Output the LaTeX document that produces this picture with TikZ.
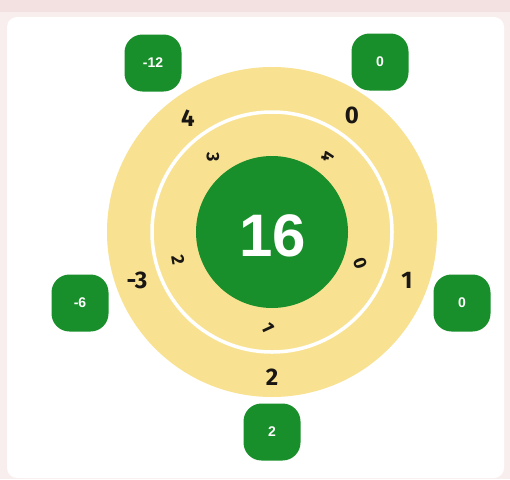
\documentclass[tikz,border=0pt]{standalone}
\usepackage{fontspec}
\setmainfont{Liberation Sans}
\newfontfamily\ringfont{Fira Sans}
\definecolor{pinkbg}{RGB}{249,238,238}
\definecolor{pinktop}{RGB}{243,224,224}
\definecolor{ringyellow}{RGB}{248,226,146}
\definecolor{wheelgreen}{RGB}{24,143,42}
\definecolor{digit}{RGB}{25,22,20}
\tikzset{
  box/.style={fill=wheelgreen, rounded corners=18pt, minimum width=57pt, minimum height=57pt,
    inner sep=0pt, text=white, font=\bfseries\fontsize{14}{14}\selectfont},
  outerlabel/.style={text=digit, inner sep=0pt, font=\ringfont\bfseries\fontsize{24}{24}\selectfont},
  innerlabel/.style={text=digit, inner sep=0pt, font=\ringfont\bfseries\fontsize{18}{18}\selectfont},
  hub/.style={circle, fill=wheelgreen, minimum size=152pt, inner sep=0pt, text=white,
    font=\bfseries\fontsize{60}{60}\selectfont}
}
\begin{document}
\begin{tikzpicture}[x=1pt,y=-1pt]
\useasboundingbox (0,0) rectangle (510,479);
\fill[pinkbg] (0,0) rectangle (510,479);
\fill[pinktop] (0,0) rectangle (510,12);
\fill[white, rounded corners=10pt] (7,17) rectangle (504,478);
\coordinate (C) at (272,232);
\fill[ringyellow] (C) circle (165);
\draw[white, line width=3.5pt] (C) circle (120);
\node[hub] (hub) at (C) {};
\node[text=white, font=\bfseries\fontsize{60}{60}\selectfont, inner sep=0pt] (sixteen) at (273,236) {16};
% outer boxes
\node[box] (b1) at (153,63) {-12};
\node[box] (b2) at (380,62) {0};
\node[box] (b3) at (462,303) {0};
\node[box] (b4) at (272,432) {2};
\node[box] (b5) at (80,303) {-6};
% outer ring labels
\node[outerlabel] (o1) at (188,118) {4};
\node[outerlabel] (o2) at (352,115) {0};
\node[outerlabel] (o3) at (407,280) {1};
\node[outerlabel] (o4) at (272,377) {2};
\node[outerlabel] (o5) at (137,280) {-3};
% inner ring labels
\node[innerlabel, rotate=-90] (i1) at (213,157) {3};
\node[innerlabel, rotate=-100] (i2) at (328,157) {4};
\node[innerlabel, rotate=-70] (i3) at (360,263) {0};
\node[innerlabel, rotate=-65] (i4) at (268,328) {1};
\node[innerlabel, rotate=-80] (i5) at (178,260) {2};
\end{tikzpicture}
\end{document}
